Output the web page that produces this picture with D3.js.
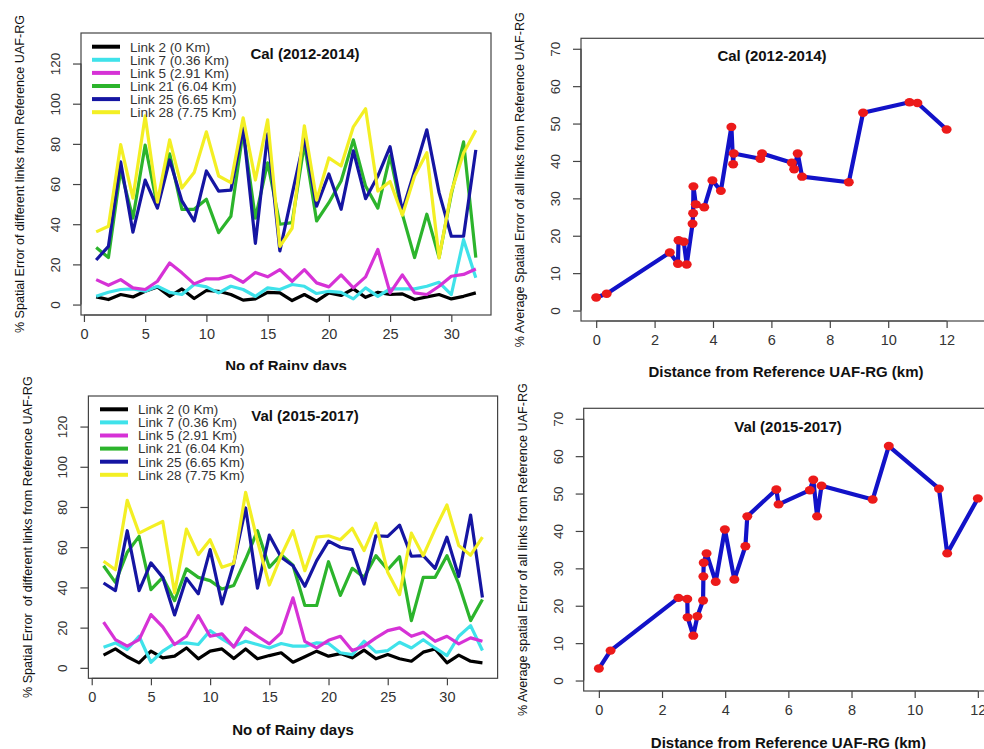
<!DOCTYPE html>
<html><head><meta charset="utf-8">
<script src="https://cdn.jsdelivr.net/npm/d3@7"></script>
<style>
body{margin:0;background:#fff}
svg{display:block}
text{font-family:"Liberation Sans",Arial,Helvetica,sans-serif}
</style>
</head><body>
<svg id="chart" width="984" height="749"></svg>
<script>
// ---------------- DATA ----------------
const linkNames = ["Link 2 (0 Km)", "Link 7 (0.36 Km)", "Link 5 (2.91 Km)", "Link 21 (6.04 Km)", "Link 25 (6.65 Km)", "Link 28 (7.75 Km)"];
const linkColors = ["#000000", "#3fe2ea", "#d632d6", "#2cb42c", "#1515a2", "#f3ef24"];

const calDays = [1,2,3,4,5,6,7,8,9,10,11,12,13,14,15,16,17,18,19,20,21,22,23,24,25,26,27,28,29,30,31,32];
const calLink2  = [3.8,2.5,5,3.8,6.6,8.8,4.1,7.8,3,7,6.6,5,2.2,2.8,6.1,5.8,2,5,1.7,5.8,4.5,7.8,3.6,6.1,5,5.3,2.5,3.8,5,2.8,4.1,5.8];
const calLink7  = [4.1,6.1,7.5,7.8,6.6,9.1,6.1,5,10,8.8,5.8,9.1,7.5,4.1,8.3,7.5,10,9.1,5.5,6.6,6.1,2.8,8.3,4.1,7.8,7.8,7.8,9.1,11.1,5,32.3,13.3];
const calLink5  = [12.4,9.6,12.4,8.3,7.5,11.6,20.7,15.8,10.3,12.8,12.8,14.4,11.1,16,13.8,17.4,11.6,17.4,10.8,8.8,14.8,8.3,13.8,27.4,5.8,14.8,5.8,5,9.1,14.1,15,17.7];
const calLink21 = [28.4,23.4,67,43,79.4,49,75,47.4,47.4,52.4,35.8,44,86.4,43,70.6,40,40.8,80,41.6,50.7,61.5,82,59,48,74,45,23.4,45,23.4,55,81,23.4];
const calLink25 = [22.2,29,71,36,62,48,72,51.6,41.6,66.5,56.5,57,88,30.5,85,26.7,55,82.6,49,65,47.4,76.5,52.7,64,78.6,46.6,66.5,87,55.7,34,34,77];
const calLink28 = [36.2,39,79.6,53,93.9,51,82,58,65.7,86,64,60.7,93,62,92,29,38,89,52,73,69,88.5,97.5,56.5,61.3,44.5,64,75.6,23.2,56,75.5,86.8];

const valDays = [1,2,3,4,5,6,7,8,9,10,11,12,13,14,15,16,17,18,19,20,21,22,23,24,25,26,27,28,29,30,31,32,33];
const valLink2  = [6.3,9.4,5.5,2.5,8.3,5,5.8,9.9,4.5,8.3,9.4,4.6,9.4,4.5,6.1,7.5,2.8,5.5,8.3,5.8,7.1,5,8.8,4.5,6.6,4.5,3.3,7.8,9.4,2.5,6.3,3.3,2.5];
const valLink7  = [10.3,12.4,9.1,15.7,2.8,8.3,12.1,12.4,11.6,18.5,14.4,10.8,13.2,11.6,9.9,12.1,10.8,10.8,12.4,12.1,7.5,6.6,13.2,7.8,8.6,12.7,9.9,14,9.9,6.1,15.7,21,8.6];
const valLink5  = [22.7,14,10.8,14,26.5,20.4,11.6,15.7,26,15.7,16.9,10.3,19.9,15.7,11.9,17.4,34.8,13.2,9.9,13.7,15.7,8.6,10.8,14.9,18.5,19.9,15.7,17.7,13.2,15.7,11.9,14.9,13.2];
const valLink21 = [50.8,42.5,57.5,65.4,38.9,45,33.4,49.2,45,43.4,39.2,41,54,68.2,50,56.3,51,31,31,52.8,36,49.5,45,55.8,48.8,55.3,23.5,45,45,55.8,41.7,23.5,34];
const valLink25 = [42.2,38.4,68.2,38.4,52.2,45,26.3,44.5,36.8,58.8,31.8,52,79.5,39.6,66,55,50.8,40.6,53.3,63,60,58.8,41.7,65.7,65.4,71,55.5,55.8,49.5,65,45.4,76,35];
const valLink28 = [53,48.8,83.3,67,70,72.8,37.3,69,56.3,63.7,50,52,87.3,63,41.2,55.8,68.2,48.3,65,65.7,63.7,69.4,58.3,71.9,47.5,36.4,67,55.8,69,81,60.8,56,65];

const calDist = [0,0.36,2.52,2.8,2.82,3.0,3.1,3.3,3.32,3.33,3.41,3.7,3.98,4.27,4.63,4.69,4.71,5.62,5.68,6.7,6.78,6.9,7.05,8.65,9.14,10.73,11.0,12.0];
const calAvgErr = [3.5,4.5,15.5,12.5,18.8,18.4,12.3,23.2,26,33.2,28.4,27.6,34.8,32,49.1,39.1,42,40.6,42,39.5,37.8,42,35.8,34.3,52.9,55.7,55.5,48.4];

const valDist = [0,0.37,2.52,2.8,2.81,2.99,3.12,3.3,3.31,3.32,3.41,3.7,3.99,4.29,4.64,4.7,5.62,5.69,6.68,6.79,6.91,7.05,8.67,9.18,10.77,11.03,12.0];
const valAvgErr = [3.2,8,22.1,21.8,16.9,12,17.2,21.4,27.8,31.5,34,26.4,40.4,27,35.9,43.9,51.1,47.1,50.9,53.7,43.9,52.1,48.4,62.7,51.3,34,48.7];

const dayTicks = [0,5,10,15,20,25,30];
const errTicks = [0,20,40,60,80,100,120];
const distTicks = [0,2,4,6,8,10,12];
const avgTicks = [0,10,20,30,40,50,60,70];

// ---------------- DRAWING ----------------
const svg = d3.select("#chart");
svg.append("rect").attr("width",984).attr("height",749).attr("fill","#fff");

const defs = svg.append("defs");
defs.append("clipPath").attr("id","clipTL").append("rect").attr("x",0).attr("y",0).attr("width",984).attr("height",370);

function rExtend(lo, hi){ const d=(hi-lo)*0.04; return [lo-d, hi+d]; }

function frame(g, box, x, y, xt, yt, opts){
  // box
  g.append("rect").attr("x",box.l).attr("y",box.t).attr("width",box.r-box.l).attr("height",box.b-box.t)
    .attr("fill","none").attr("stroke","#444").attr("stroke-width",1.2);
  // x axis (R style: line from first to last tick)
  const xa = g.append("g").attr("transform",`translate(0,${box.b})`)
    .call(d3.axisBottom(x).tickValues(xt).tickSize(7).tickSizeOuter(0).tickPadding(6));
  xa.select(".domain").attr("d",`M${x(xt[0])},0H${x(xt[xt.length-1])}`).attr("stroke","#444").attr("stroke-width",1.2);
  xa.selectAll(".tick line").attr("stroke","#444").attr("stroke-width",1.2);
  xa.selectAll(".tick text").attr("font-size",14.5).attr("fill","#333").attr("dy","0.75em")
    .attr("font-family",'"Liberation Sans",Arial,sans-serif');
  // y axis
  const ya = g.append("g").attr("transform",`translate(${box.l},0)`)
    .call(d3.axisLeft(y).tickValues(yt).tickSize(8).tickSizeOuter(0));
  ya.select(".domain").attr("d",`M0,${y(yt[0])}V${y(yt[yt.length-1])}`).attr("stroke","#444").attr("stroke-width",1.2);
  ya.selectAll(".tick line").attr("stroke","#444").attr("stroke-width",1.2);
  ya.selectAll(".tick text").attr("font-size",13.5).attr("fill","#333")
    .attr("font-family",'"Liberation Sans",Arial,sans-serif')
    .attr("x",null).attr("dy",null).attr("text-anchor","middle")
    .attr("transform","translate(-21,0) rotate(-90)");
  // titles
  g.append("text").attr("x",(box.l+box.r)/2).attr("y",opts.xtY).attr("text-anchor","middle")
    .attr("font-size",15).attr("font-weight","bold").attr("fill","#111").text(opts.xtitle);
  g.append("text").attr("transform",`translate(${opts.ytX},${(box.t+box.b)/2}) rotate(-90)`).attr("text-anchor","middle")
    .attr("font-size",12.6).attr("fill","#111").attr("xml:space","preserve").style("white-space","pre").text(opts.ytitle);
  g.append("text").attr("x",opts.mainX).attr("y",opts.mainY).attr("text-anchor","middle")
    .attr("font-size",15).attr("font-weight","bold").attr("fill","#111").text(opts.main);
}

function linePanel(g, box, days, series, opts){
  const x = d3.scaleLinear().domain(rExtend(d3.min(days), d3.max(days))).range([box.l, box.r]);
  const y = d3.scaleLinear().domain(rExtend(0,130)).range([box.b, box.t]);
  const line = d3.line().x((d,i)=>x(days[i])).y(d=>y(d));
  series.forEach((s,i)=>{
    g.append("path").datum(s).attr("d",line).attr("fill","none").attr("stroke",linkColors[i])
      .attr("stroke-width",3.2).attr("stroke-linejoin","round");
  });
  frame(g, box, x, y, dayTicks, errTicks, opts);
  // legend
  const lg = g.append("g");
  linkNames.forEach((n,i)=>{
    const yy = opts.legY + i*13.1;
    lg.append("line").attr("x1",opts.legX).attr("x2",opts.legX+28).attr("y1",yy).attr("y2",yy)
      .attr("stroke",linkColors[i]).attr("stroke-width",4);
    lg.append("text").attr("x",opts.legX+38).attr("y",yy+4.8).attr("font-size",13.5).attr("fill","#333").text(n);
  });
}

function distPanel(g, box, xdom, dist, err, opts){
  const x = d3.scaleLinear().domain(xdom).range([box.l, box.r]);
  const y = d3.scaleLinear().domain(rExtend(0,70)).range([box.b, box.t]);
  const line = d3.line().x((d,i)=>x(dist[i])).y(d=>y(d));
  g.append("path").datum(err).attr("d",line).attr("fill","none").attr("stroke","#1212c8")
    .attr("stroke-width",4.2).attr("stroke-linejoin","round");
  g.selectAll("ellipse.pt").data(err).enter().append("ellipse").attr("class","pt")
    .attr("cx",(d,i)=>x(dist[i])).attr("cy",d=>y(d)).attr("rx",5).attr("ry",4.2).attr("fill","#ec1a1a");
  frame(g, box, x, y, distTicks, avgTicks, opts);
}

// Top-left
const gTL = svg.append("g").attr("clip-path","url(#clipTL)");
linePanel(gTL, {l:81,r:491,t:33,b:315}, calDays,
  [calLink2,calLink7,calLink5,calLink21,calLink25,calLink28],
  {xtitle:"No of Rainy days", xtY:371, ytitle:"% Spatial Error of different links from Reference UAF-RG", ytX:24,
   main:"Cal (2012-2014)", mainX:305, mainY:58.5, legX:92, legY:46.7});

// Bottom-left
const gBL = svg.append("g");
linePanel(gBL, {l:88.4,r:497.6,t:396,b:678.3}, valDays,
  [valLink2,valLink7,valLink5,valLink21,valLink25,valLink28],
  {xtitle:"No of Rainy days", xtY:735, ytitle:"% Spatial Error  of different links from Reference UAF-RG", ytX:32,
   main:"Val (2015-2017)", mainX:305, mainY:421, legX:100, legY:409.3});

// Top-right
const gTR = svg.append("g");
distPanel(gTR, {l:581,r:991,t:38.3,b:321}, rExtend(0,13), calDist, calAvgErr,
  {xtitle:"Distance from Reference UAF-RG (km)", xtY:377, ytitle:"% Average Spatial Error of all links from Reference UAF-RG", ytX:524,
   main:"Cal (2012-2014)", mainX:772, mainY:61});

// Bottom-right
const gBR = svg.append("g");
distPanel(gBR, {l:583.7,r:993,t:408.3,b:691}, rExtend(0,12), valDist, valAvgErr,
  {xtitle:"Distance from Reference UAF-RG (km)", xtY:747.5, ytitle:"% Average spatial Error of all links from Reference UAF-RG", ytX:527,
   main:"Val (2015-2017)", mainX:788, mainY:432});
</script>
</body></html>
